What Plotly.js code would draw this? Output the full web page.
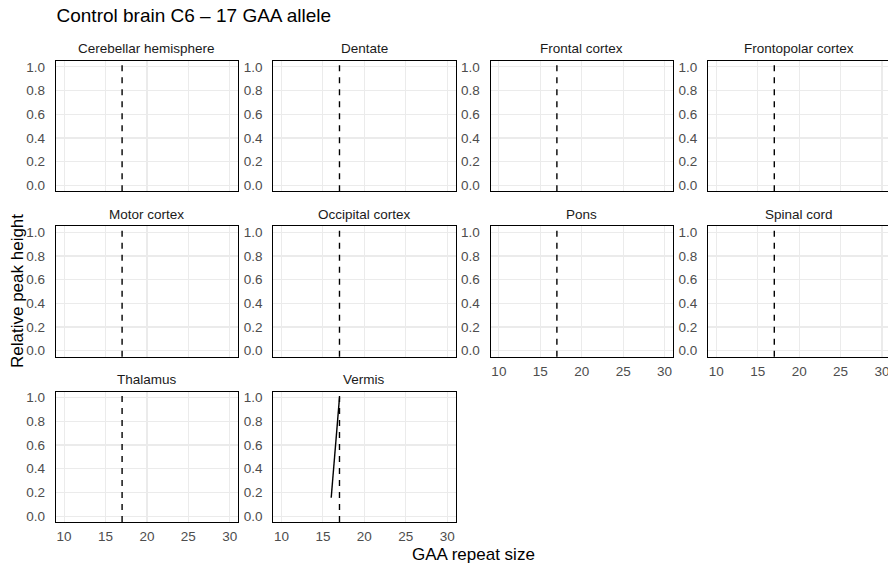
<!DOCTYPE html>
<html><head><meta charset="utf-8">
<script src="https://cdn.plot.ly/plotly-3.0.1.min.js"></script>
<style>html,body{margin:0;padding:0;overflow:hidden;background:#fff}#chart{width:892px;height:566px}</style>
</head><body><div id="chart"></div>
<script>
// ---- data ----
const regions = ["Cerebellar hemisphere","Dentate","Frontal cortex","Frontopolar cortex","Motor cortex","Occipital cortex","Pons","Spinal cord","Thalamus","Vermis"];
const alleleSize = 17;
const vermisRepeat = [16, 17];
const vermisHeight = [0.155, 1.0];
const xTicks = [10, 15, 20, 25, 30];
const yTicks = [0, 0.2, 0.4, 0.6, 0.8, 1.0];
const yTickLabels = ["0.0", "0.2", "0.4", "0.6", "0.8", "1.0"];
const chartTitle = "Control brain C6 \u2013 17 GAA allele";
const xTitle = "GAA repeat size";
const yTitle = "Relative peak height";

// ---- layout ----
const W = 892, H = 566;
const FONT = "Liberation Sans, Arial, Helvetica, sans-serif";
const layout = {
  width: W, height: H,
  margin: {l: 0, r: 0, t: 0, b: 0},
  paper_bgcolor: "#fff", plot_bgcolor: "#fff",
  showlegend: false,
  font: {family: FONT, color: "#000"},
  title: {text: chartTitle, x: 56.5 / W, xanchor: "left", xref: "paper",
          y: 1 - 15 / H, yanchor: "middle", yref: "paper",
          font: {family: FONT, size: 19, color: "#000"}},
  shapes: [], annotations: []
};
const traces = [];
regions.forEach((name, i) => {
  const r = Math.floor(i / 4), c = i % 4;
  const left = 55.8 + 217.4 * c, right = left + 182.3;
  const top = 61 + 165.35 * r, bottom = top + 130.3;
  const k = i === 0 ? "" : String(i + 1);
  const showX = r === 2 || (r === 1 && c >= 2);
  layout["xaxis" + k] = {
    domain: [left / W, right / W], anchor: "y" + k, range: [9, 31],
    tickvals: xTicks, showticklabels: showX, ticks: "", ticklabelstandoff: 2,
    showgrid: true, gridcolor: "#ebebeb", gridwidth: 1.1, zeroline: false,
    showline: true, mirror: true, linecolor: "#000", linewidth: 1,
    tickfont: {family: FONT, size: 13.5, color: "#4d4d4d"}, fixedrange: true
  };
  layout["yaxis" + k] = {
    domain: [1 - bottom / H, 1 - top / H], anchor: "x" + k, range: [-0.05, 1.05],
    tickvals: yTicks, ticktext: yTickLabels, ticks: "", ticklabelstandoff: 7,
    showgrid: true, gridcolor: "#ebebeb", gridwidth: 1.1, zeroline: false,
    showline: true, mirror: true, linecolor: "#000", linewidth: 1,
    tickfont: {family: FONT, size: 13.5, color: "#4d4d4d"}, fixedrange: true
  };
  const isVermis = name === "Vermis";
  traces.push({
    type: "scatter", mode: "lines",
    x: isVermis ? vermisRepeat : [], y: isVermis ? vermisHeight : [],
    xaxis: "x" + k, yaxis: "y" + k,
    line: {color: "#000", width: 1.4}, hoverinfo: "skip"
  });
  layout.shapes.push({
    type: "line", xref: "x" + k, yref: "y" + k + " domain",
    x0: alleleSize, x1: alleleSize, y0: 0, y1: 1,
    line: {color: "#000", width: 1.4, dash: "6px,6px"}
  });
  layout.annotations.push({
    text: name, xref: "paper", yref: "paper",
    x: (left + right) / 2 / W, y: 1 - (top - 12) / H,
    xanchor: "center", yanchor: "middle", showarrow: false,
    font: {family: FONT, size: 13.5, color: "#1a1a1a"}
  });
});
layout.annotations.push({
  text: xTitle, xref: "paper", yref: "paper", x: 473 / W, y: 1 - 554.5 / H,
  xanchor: "center", yanchor: "middle", showarrow: false,
  font: {family: FONT, size: 17, color: "#000"}
});
layout.annotations.push({
  text: yTitle, xref: "paper", yref: "paper", x: 17 / W, y: 1 - 291 / H,
  xanchor: "center", yanchor: "middle", showarrow: false, textangle: -90,
  font: {family: FONT, size: 17, color: "#000"}
});
Plotly.newPlot("chart", traces, layout, {displayModeBar: false, staticPlot: true});
</script></body></html>
